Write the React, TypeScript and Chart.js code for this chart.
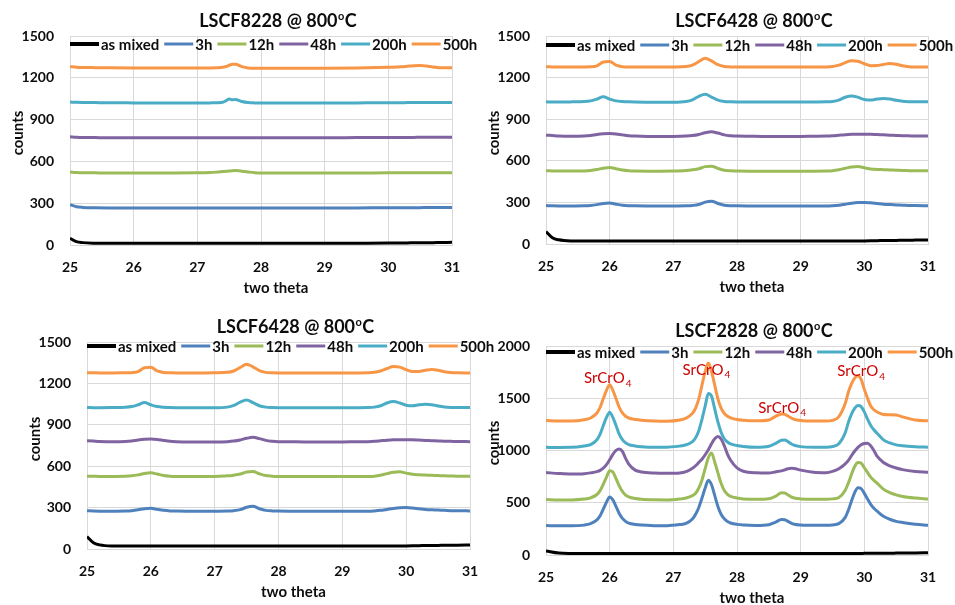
import React, { useEffect, useRef } from 'react';
import { Chart, registerables } from 'chart.js';

Chart.register(...registerables);

// ---------- shared legend / series info ----------
const seriesNames = ['as mixed', '3h', '12h', '48h', '200h', '500h'];
const seriesColors = ['#000000', '#4F81BD', '#9BBB59', '#8064A2', '#4BACC6', '#F79646'];
const xTicks = { min: 25, max: 31, step: 1 };

// ---------- LSCF8228 ----------
const x8228 = [25.0, 25.1, 25.2, 25.4, 25.6, 26.0, 26.5, 27.0, 27.2, 27.3, 27.4, 27.45, 27.5, 27.55, 27.6, 27.65, 27.7, 27.8, 27.9, 28.0, 28.5, 29.0, 29.5, 30.0, 30.2, 30.3, 30.4, 30.5, 30.6, 30.7, 30.8, 31.0];
const y8228_asMixed = [48, 24, 17, 13, 12, 12, 12, 12, 12, 12, 12, 12, 12, 12, 12, 12, 12, 12, 12, 12, 12, 12, 13, 14, 15, 15, 16, 16, 17, 17, 18, 19];
const y8228_3h = [289, 275, 270, 267, 266, 266, 266, 266, 266, 266, 266, 266, 266, 266, 266, 266, 266, 266, 266, 266, 266, 266, 266, 267, 267, 268, 268, 268, 269, 269, 270, 270];
const y8228_12h = [524, 521, 519, 518, 517, 517, 517, 518, 520, 523, 527, 529, 531, 533, 534, 533, 530, 524, 519, 517, 517, 517, 517, 518, 518, 518, 518, 518, 519, 519, 519, 519];
const y8228_48h = [777, 774, 772, 771, 770, 770, 770, 770, 770, 770, 770, 770, 770, 770, 770, 770, 770, 770, 770, 770, 770, 770, 771, 772, 772, 772, 772, 773, 773, 773, 773, 773];
const y8228_200h = [1026, 1024, 1023, 1022, 1021, 1020, 1019, 1019, 1020, 1021, 1025, 1035, 1048, 1042, 1045, 1038, 1030, 1022, 1020, 1019, 1019, 1019, 1020, 1021, 1021, 1022, 1022, 1022, 1022, 1023, 1023, 1023];
const y8228_500h = [1280, 1276, 1274, 1273, 1272, 1271, 1271, 1271, 1271, 1272, 1275, 1281, 1290, 1298, 1297, 1290, 1280, 1271, 1269, 1269, 1269, 1269, 1271, 1276, 1279, 1283, 1287, 1289, 1284, 1277, 1273, 1272];

// ---------- LSCF6428 ----------
const x6428 = [25.0, 25.1, 25.2, 25.4, 25.6, 25.7, 25.8, 25.9, 26.0, 26.1,
  26.2, 26.3, 26.4, 26.6, 26.8, 27.0, 27.2, 27.3, 27.4, 27.5,
  27.6, 27.7, 27.8, 27.9, 28.0, 28.2, 28.4, 28.6, 28.8, 29.0,
  29.2, 29.4, 29.5, 29.6, 29.7, 29.8, 29.9, 30.0, 30.1, 30.2,
  30.3, 30.4, 30.5, 30.6, 30.7, 30.8, 31.0];
const y6428_asMixed = [90, 45, 30, 22, 21, 21, 21, 21, 21, 21,
  21, 21, 21, 21, 21, 21, 21, 21, 21, 21,
  21, 21, 21, 21, 21, 21, 21, 21, 21, 21,
  21, 21, 21, 21, 21, 21, 21, 22, 23, 24,
  25, 26, 26, 27, 27, 28, 29];
const y6428_3h = [277, 275, 274, 274, 275, 278, 284, 292, 295, 287,
  280, 276, 275, 274, 274, 274, 275, 278, 285, 302,
  309, 292, 280, 276, 275, 274, 274, 274, 274, 274,
  274, 274, 276, 280, 287, 294, 299, 300, 297, 292,
  287, 284, 282, 280, 278, 277, 276];
const y6428_12h = [528, 527, 526, 526, 527, 530, 537, 547, 552, 543,
  533, 528, 526, 525, 525, 526, 530, 535, 543, 558,
  561, 545, 532, 528, 526, 525, 525, 525, 525, 525,
  525, 526, 528, 535, 546, 556, 559, 550, 541, 538,
  536, 534, 532, 530, 529, 528, 528];
const y6428_48h = [785, 782, 779, 777, 779, 783, 790, 795, 797, 794,
  787, 781, 778, 776, 776, 776, 778, 782, 790, 802,
  809, 800, 787, 781, 778, 777, 776, 776, 776, 776,
  777, 778, 780, 784, 788, 791, 792, 792, 791, 789,
  787, 785, 783, 781, 780, 779, 778];
const y6428_200h = [1025, 1024, 1024, 1025, 1027, 1032, 1045, 1061, 1045, 1032,
  1027, 1025, 1024, 1023, 1023, 1023, 1028, 1040, 1065, 1080,
  1060, 1038, 1028, 1025, 1024, 1024, 1024, 1024, 1024, 1024,
  1024, 1025, 1028, 1038, 1058, 1068, 1058, 1042, 1038, 1045,
  1049, 1046, 1036, 1029, 1026, 1025, 1025];
const y6428_500h = [1278, 1277, 1276, 1276, 1277, 1278, 1285, 1313, 1317, 1290,
  1279, 1277, 1276, 1276, 1276, 1277, 1280, 1290, 1315, 1339,
  1320, 1293, 1280, 1277, 1276, 1276, 1276, 1276, 1276, 1276,
  1276, 1277, 1280, 1290, 1308, 1322, 1318, 1300, 1286, 1287,
  1295, 1301, 1296, 1285, 1279, 1277, 1276];

// ---------- LSCF2828 ----------
const x2828 = [25.0, 25.2, 25.4, 25.6, 25.7, 25.8, 25.85, 25.9, 25.95, 26.0,
  26.05, 26.1, 26.15, 26.2, 26.25, 26.3, 26.4, 26.5, 26.7, 26.9,
  27.1, 27.2, 27.3, 27.35, 27.4, 27.45, 27.5, 27.55, 27.6, 27.65,
  27.7, 27.75, 27.8, 27.85, 27.9, 28.0, 28.1, 28.3, 28.5, 28.6,
  28.7, 28.75, 28.8, 28.85, 28.9, 29.0, 29.2, 29.4, 29.5, 29.6,
  29.7, 29.75, 29.8, 29.85, 29.9, 29.95, 30.0, 30.05, 30.1, 30.15,
  30.2, 30.3, 30.4, 30.5, 30.6, 30.8, 31.0];
const y2828_asMixed = [38, 18, 15, 14, 14, 14, 14, 14, 14, 14,
  14, 14, 14, 14, 14, 14, 14, 14, 14, 14,
  14, 14, 14, 14, 14, 14, 14, 14, 14, 14,
  14, 14, 14, 14, 14, 14, 14, 14, 14, 14,
  14, 14, 14, 14, 14, 14, 14, 15, 15, 15,
  15, 15, 15, 15, 15, 15, 16, 16, 16, 16,
  16, 17, 17, 18, 19, 20, 22];
const y2828_3h = [282, 279, 279, 286, 300, 336, 375, 439, 506, 556,
  528, 464, 397, 350, 322, 305, 292, 286, 281, 280,
  291, 302, 345, 390, 455, 545, 640, 716, 672, 570,
  465, 390, 346, 320, 306, 293, 287, 283, 290, 312,
  340, 338, 322, 305, 294, 287, 284, 284, 288, 300,
  360, 430, 520, 600, 643, 635, 590, 535, 485, 447,
  420, 370, 342, 322, 311, 295, 285];
const y2828_12h = [530, 527, 527, 535, 547, 579, 616, 677, 746, 806,
  795, 731, 662, 608, 573, 556, 540, 533, 528, 527,
  536, 545, 568, 591, 641, 718, 827, 931, 976, 890,
  786, 686, 618, 581, 561, 545, 537, 533, 538, 560,
  595, 594, 575, 556, 545, 537, 533, 533, 537, 550,
  620, 690, 775, 850, 885, 880, 835, 790, 745, 715,
  688, 630, 597, 575, 560, 545, 537];
const y2828_48h = [789, 780, 775, 778, 786, 798, 810, 831, 864, 911,
  963, 1001, 1015, 991, 925, 870, 812, 794, 784, 782,
  785, 798, 830, 854, 886, 917, 959, 1008, 1064, 1113,
  1134, 1110, 1046, 966, 906, 833, 801, 786, 784, 795,
  805, 815, 825, 830, 828, 812, 792, 788, 800, 825,
  872, 905, 952, 995, 1030, 1055, 1067, 1070, 1045, 1000,
  945, 885, 853, 832, 817, 800, 792];
const y2828_200h = [1030, 1029, 1030, 1043, 1056, 1103, 1157, 1239, 1316, 1367,
  1316, 1239, 1157, 1103, 1073, 1056, 1043, 1036, 1030, 1032,
  1042, 1055, 1086, 1123, 1190, 1299, 1424, 1545, 1520, 1398,
  1273, 1175, 1112, 1081, 1063, 1047, 1038, 1030, 1040, 1066,
  1098, 1100, 1085, 1065, 1050, 1037, 1032, 1032, 1038, 1065,
  1170, 1270, 1350, 1405, 1430, 1420, 1370, 1300, 1240, 1198,
  1165, 1102, 1072, 1054, 1045, 1036, 1032];
const y2828_500h = [1286, 1283, 1283, 1295, 1311, 1359, 1414, 1497, 1576, 1628,
  1576, 1497, 1414, 1359, 1328, 1311, 1297, 1290, 1283, 1281,
  1292, 1310, 1355, 1405, 1494, 1626, 1754, 1837, 1754, 1626,
  1494, 1405, 1355, 1327, 1313, 1296, 1289, 1284, 1292, 1325,
  1350, 1345, 1330, 1312, 1298, 1287, 1282, 1282, 1288, 1325,
  1450, 1560, 1640, 1695, 1715, 1680, 1585, 1500, 1425, 1390,
  1368, 1345, 1343, 1340, 1322, 1292, 1284];

// SrCrO4 annotations (LSCF2828)
const annotText = 'SrCrO';
const annotSub = '4';
const annotX = [25.97, 27.52, 28.71, 29.95];
const annotY = [1690, 1773, 1409, 1757];

const FONT = 'Lato, "Open Sans", sans-serif';
const TEXT = '#0d0d0d';
const GRID = '#d9d9d9';

type PanelCfg = {
  sample: string;
  xs: number[];
  ys: number[][];
  yMax: number;
  yStep: number;
  left: number; top: number; w: number; h: number;
  area: { l: number; r: number; t: number; b: number };
  legendDy: number;
  annot?: boolean;
};

const panels: PanelCfg[] = [
  {
    sample: 'LSCF8228', xs: x8228,
    ys: [y8228_asMixed, y8228_3h, y8228_12h, y8228_48h, y8228_200h, y8228_500h],
    yMax: 1500, yStep: 300,
    left: 0, top: 0, w: 480, h: 300, area: { l: 70, r: 452, t: 36, b: 245 }, legendDy: 8,
  },
  {
    sample: 'LSCF6428', xs: x6428,
    ys: [y6428_asMixed, y6428_3h, y6428_12h, y6428_48h, y6428_200h, y6428_500h],
    yMax: 1500, yStep: 300,
    left: 480, top: 0, w: 475, h: 300, area: { l: 66, r: 448, t: 36, b: 244 }, legendDy: 9,
  },
  {
    sample: 'LSCF6428', xs: x6428,
    ys: [y6428_asMixed, y6428_3h, y6428_12h, y6428_48h, y6428_200h, y6428_500h],
    yMax: 1500, yStep: 300,
    left: 0, top: 305, w: 500, h: 300, area: { l: 87, r: 470, t: 37, b: 244 }, legendDy: 4,
  },
  {
    sample: 'LSCF2828', xs: x2828,
    ys: [y2828_asMixed, y2828_3h, y2828_12h, y2828_48h, y2828_200h, y2828_500h],
    yMax: 2000, yStep: 500,
    left: 480, top: 305, w: 475, h: 300, area: { l: 66, r: 448, t: 41, b: 250 }, legendDy: 6, annot: true,
  },
];

function overlayPlugin(cfg: PanelCfg) {
  return {
    id: 'overlay',
    afterDraw(chart: any) {
      const ctx: CanvasRenderingContext2D = chart.ctx;
      const ca = chart.chartArea;
      const cx = (ca.left + ca.right) / 2;
      ctx.save();
      ctx.fillStyle = TEXT;
      ctx.textBaseline = 'middle';

      // title with superscript "o"
      const main = cfg.sample + ' @ 800';
      const fMain = `bold 18px ${FONT}`;
      const fSup = `bold 11px ${FONT}`;
      ctx.font = fMain;
      const w1 = ctx.measureText(main).width;
      const w3 = ctx.measureText('C').width;
      ctx.font = fSup;
      const w2 = ctx.measureText('o').width + 1;
      const tx0 = cx + 17 - (w1 + w2 + w3) / 2;
      const ty = ca.top - 15;
      ctx.textAlign = 'left';
      ctx.font = fMain;
      ctx.fillText(main, tx0, ty);
      ctx.font = fSup;
      ctx.fillText('o', tx0 + w1 + 0.5, ty - 5);
      ctx.font = fMain;
      ctx.fillText('C', tx0 + w1 + w2, ty);

      // axis titles
      ctx.font = `bold 15px ${FONT}`;
      ctx.textAlign = 'center';
      ctx.fillText('two theta', cx + 15, ca.bottom + 43);
      ctx.save();
      ctx.translate(ca.left - 52, ca.top + 97);
      ctx.rotate(-Math.PI / 2);
      ctx.fillText('counts', 0, 0);
      ctx.restore();

      // legend
      let lx = ca.left;
      const ly = ca.top + cfg.legendDy;
      ctx.textAlign = 'left';
      ctx.font = `bold 15px ${FONT}`;
      seriesNames.forEach((name, i) => {
        ctx.strokeStyle = seriesColors[i];
        ctx.lineWidth = i === 0 ? 4 : 3;
        ctx.beginPath();
        ctx.moveTo(lx, ly);
        ctx.lineTo(lx + 29, ly);
        ctx.stroke();
        lx += 31;
        ctx.fillStyle = TEXT;
        ctx.fillText(name, lx, ly + 1);
        lx += ctx.measureText(name).width + 5;
      });

      // annotations
      if (cfg.annot) {
        const xs = chart.scales.x;
        const ys = chart.scales.y;
        ctx.fillStyle = '#CC0000';
        annotX.forEach((vx, i) => {
          const px = xs.getPixelForValue(vx);
          const py = ys.getPixelForValue(annotY[i]);
          ctx.font = `15px ${FONT}`;
          const a = ctx.measureText(annotText).width;
          ctx.font = `10px ${FONT}`;
          const b = ctx.measureText(annotSub).width;
          const sx = px - (a + b + 1) / 2;
          ctx.font = `15px ${FONT}`;
          ctx.fillText(annotText, sx, py);
          ctx.font = `10px ${FONT}`;
          ctx.fillText(annotSub, sx + a + 1, py + 5);
        });
      }
      ctx.restore();
    },
  };
}

function Panel({ cfg }: { cfg: PanelCfg }) {
  const ref = useRef<HTMLCanvasElement>(null);
  useEffect(() => {
    if (!ref.current) return;
    const { area, w, h } = cfg;
    const tickFont = { family: FONT, size: 14, weight: 'bold' as const };
    const chart = new Chart(ref.current, {
      type: 'line',
      data: {
        datasets: cfg.ys.map((ys, i) => ({
          label: seriesNames[i],
          data: cfg.xs.map((x, j) => ({ x, y: ys[j] })),
          borderColor: seriesColors[i],
          backgroundColor: seriesColors[i],
          borderWidth: 3,
          pointRadius: 0,
          fill: false,
          cubicInterpolationMode: 'monotone' as const,
          order: seriesNames.length - i,
        })),
      },
      options: {
        animation: false,
        responsive: false,
        devicePixelRatio: 1,
        events: [],
        layout: { padding: { left: 0, top: area.t, right: w - area.r, bottom: 0 } },
        plugins: {
          legend: { display: false },
          title: { display: false },
          tooltip: { enabled: false },
        },
        scales: {
          x: {
            type: 'linear',
            min: xTicks.min,
            max: xTicks.max,
            ticks: { stepSize: xTicks.step, padding: 14, font: tickFont, color: TEXT, callback: (v: any) => String(v) },
            grid: { color: GRID, drawTicks: false, lineWidth: 1 },
            border: { color: GRID },
            afterFit: (s: any) => { s.height = h - area.b; },
          },
          y: {
            type: 'linear',
            min: 0,
            max: cfg.yMax,
            ticks: { stepSize: cfg.yStep, padding: 16, font: tickFont, color: TEXT, callback: (v: any) => String(v) },
            grid: { color: GRID, drawTicks: false, lineWidth: 1 },
            border: { color: GRID },
            afterFit: (s: any) => { s.width = area.l; },
          },
        },
      },
      plugins: [overlayPlugin(cfg)],
    });
    return () => chart.destroy();
  }, [cfg]);
  return (
    <canvas
      ref={ref}
      width={cfg.w}
      height={cfg.h}
      style={{ position: 'absolute', left: cfg.left, top: cfg.top, width: cfg.w, height: cfg.h }}
    />
  );
}

export default function App() {
  return (
    <div style={{ position: 'absolute', left: 0, top: 0, width: 955, height: 605, background: '#fff', overflow: 'hidden' }}>
      {panels.map((p, i) => (
        <Panel key={i} cfg={p} />
      ))}
    </div>
  );
}
